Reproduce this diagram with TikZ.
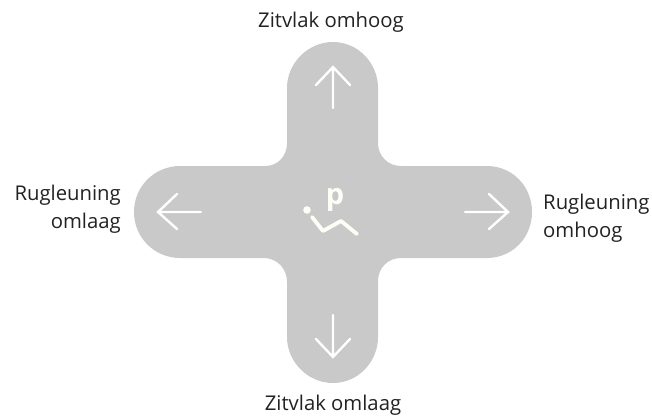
\documentclass[tikz,border=0pt]{standalone}
\usepackage{fontspec}
\setmainfont{Open Sans}
\definecolor{padgrey}{HTML}{C9C9C9}
\definecolor{cream}{HTML}{FFFEF6}
\definecolor{labeltext}{HTML}{222222}
\tikzset{
  arrowline/.style={draw=white,line width=2.4pt,line cap=round,line join=miter},
  icon/.style={draw=cream,line width=3.8pt,line cap=round,line join=round},
  lab/.style={text=labeltext,font=\fontsize{20.3}{28}\selectfont,inner sep=0pt,align=#1},
  lab/.default=center
}
\begin{document}
\begin{tikzpicture}[x=1pt,y=-1pt]
\useasboundingbox (0,0) rectangle (652,417);
\fill[padgrey] (287,88)
  .. controls (287,63) and (308,42) .. (333,42)
  .. controls (358,42) and (378,63) .. (378,88) -- (378,143)
  .. controls (378,156) and (388,166) .. (401,166) -- (487,166)
  .. controls (512,166) and (532,186) .. (532,212)
  .. controls (532,238) and (512,258) .. (487,258) -- (401,258)
  .. controls (388,258) and (378,268) .. (378,281) -- (378,337)
  .. controls (378,362) and (358,383) .. (333,383)
  .. controls (308,383) and (287,362) .. (287,337) -- (287,282)
  .. controls (287,269) and (278,259) .. (265,258) -- (180,258)
  .. controls (155,258) and (134,238) .. (134,212)
  .. controls (134,186) and (155,166) .. (180,166) -- (265,166)
  .. controls (278,166) and (287,156) .. (287,143) -- cycle;
\draw[arrowline] (333,108) -- (333,67) (316,85) -- (333,67) -- (350,85);
\draw[arrowline] (333,315) -- (333,357) (316,339) -- (333,357) -- (350,339);
\draw[arrowline] (201,212) -- (158,212) (177,194) -- (158,212) -- (177,229);
\draw[arrowline] (465,212) -- (508,212) (489,194) -- (508,212) -- (489,229);
\fill[cream] (307,210) circle[radius=3.8];
\draw[icon] (312,217) -- (323,231) -- (341,221) -- (357,234);
\node[text=cream,font=\fontsize{29}{30}\selectfont\bfseries,inner sep=0pt,anchor=base] (p) at (335,204) {p};
\node[lab] (top) at (331,22) {Zitvlak omhoog};
\node[lab] (bottom) at (333,405) {Zitvlak omlaag};
\node[lab=right,anchor=east] (left) at (121,209) {Rugleuning\\omlaag};
\node[lab=left,anchor=west] (right) at (543,218) {Rugleuning\\omhoog};
\end{tikzpicture}
\end{document}
